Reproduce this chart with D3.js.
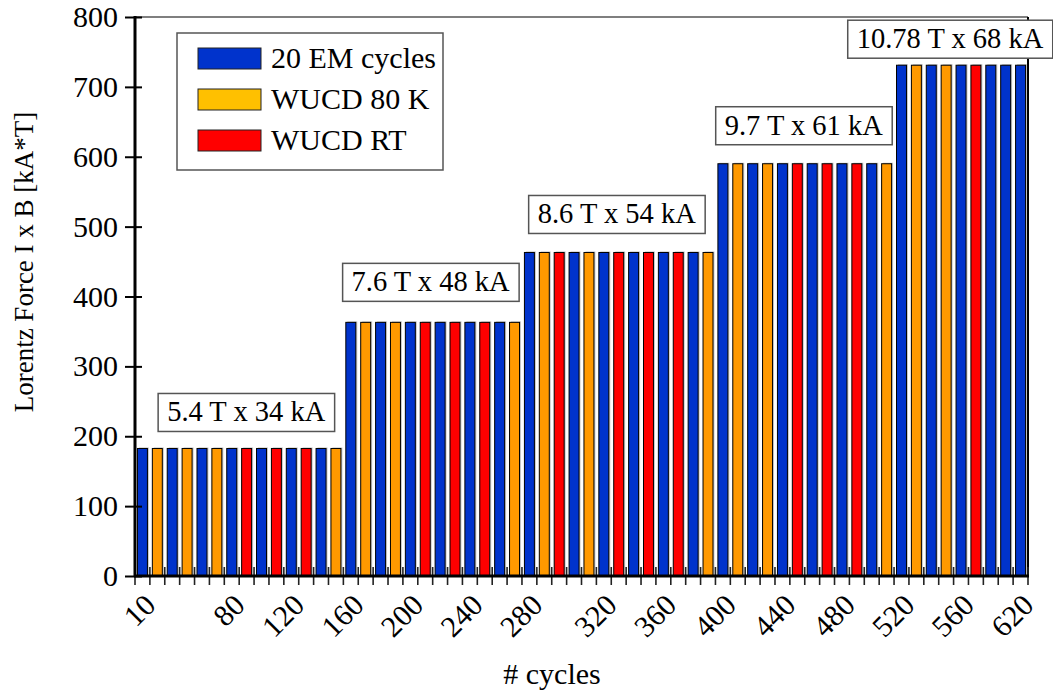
<!DOCTYPE html>
<html><head><meta charset="utf-8">
<script src="https://cdn.jsdelivr.net/npm/d3@7"></script>
<style>
html,body{margin:0;padding:0;background:#fff;}
text{font-family:"Liberation Serif","Times New Roman",serif;fill:#000;}
</style></head>
<body><svg id="chart" width="1053" height="694"></svg>
<script>
// ---- data ----
const values = [
  182.5,182.5,182.5,182.5,182.5,182.5,182.5,182.5,182.5,182.5,182.5,182.5,182.5,182.5,
  363,363,363,363,363,363,363,363,363,363,363,363,
  463,463,463,463,463,463,463,463,463,463,463,463,463,
  590,590,590,590,590,590,590,590,590,590,590,590,
  731,731,731,731,731,731,731,731,731
];
// B = 20 EM cycles, O = WUCD 80 K, R = WUCD RT
const conditions = [
  "B","O","B","O","B","O","B","R","B","R","B","R","B","O",
  "B","O","B","O","B","R","B","R","B","R","B","O",
  "B","O","R","B","O","B","R","B","R","B","R","B","O",
  "B","O","B","O","B","R","B","R","B","R","B","O",
  "B","O","B","O","B","R","B","B","B"
];
const labelIndex = [0,6,10,14,18,22,26,31,35,39,43,47,51,55,59];
const labelText  = ["10","80","120","160","200","240","280","320","360","400","440","480","520","560","620"];
const yTicks = [0,100,200,300,400,500,600,700,800];
const legendNames = ["20 EM cycles","WUCD 80 K","WUCD RT"];
const legendKeys = ["B","O","R"];
const annTexts = ["5.4 T x 34 kA","7.6 T x 48 kA","8.6 T x 54 kA","9.7 T x 61 kA","10.78 T x 68 kA"];
const annFirst = [0,14,26,39,51];
const annLast  = [13,25,38,50,59];
const annValue = [182.5,363,463,590,731];

// ---- styles ----
const barColor = {B:"#0033CC", O:"#FF9900", R:"#FF0000"};
const legendColor = {B:"#0033CC", O:"#FFC000", R:"#FF0000"};
const m={left:135,right:1028,top:17,bottom:576};
const FS=30;

const svg=d3.select("#chart");
const x=d3.scaleBand().domain(d3.range(values.length)).range([m.left,m.right]).paddingInner(0.33).paddingOuter(0.165);
const y=d3.scaleLinear().domain([0,800]).range([m.bottom,m.top]);

// frame (top/right thin)
svg.append("line").attr("x1",m.left).attr("x2",m.right).attr("y1",m.top).attr("y2",m.top).attr("stroke","#000").attr("stroke-width",1.2);
svg.append("line").attr("x1",m.right).attr("x2",m.right).attr("y1",m.top).attr("y2",m.bottom).attr("stroke","#000").attr("stroke-width",2);

// bars with shadow
const idx=d3.range(values.length);
svg.append("g").selectAll("rect").data(idx).join("rect")
  .attr("x",i=>x(i)+1.5).attr("y",i=>y(values[i])-1).attr("width",x.bandwidth()).attr("height",i=>y(0)-y(values[i])+1)
  .attr("fill","#999").attr("opacity",0.55);
svg.append("g").selectAll("rect").data(idx).join("rect")
  .attr("x",i=>x(i)).attr("y",i=>y(values[i])).attr("width",x.bandwidth()).attr("height",i=>y(0)-y(values[i]))
  .attr("fill",i=>barColor[conditions[i]]).attr("stroke","#000").attr("stroke-width",1);

// x boundary ticks (cross)
const step=x.step();
svg.append("g").selectAll("line").data(d3.range(values.length+1)).join("line")
  .attr("x1",i=>m.left+i*step).attr("x2",i=>m.left+i*step)
  .attr("y1",m.bottom-9).attr("y2",m.bottom+9).attr("stroke","#222").attr("stroke-width",1.6);

// y axis
const ya=svg.append("g").attr("transform",`translate(${m.left},0)`)
  .call(d3.axisLeft(y).tickValues(yTicks).tickSize(10).tickPadding(7).tickSizeOuter(0));
ya.select(".domain").remove();
ya.selectAll(".tick line").attr("x1",7).attr("stroke","#000").attr("stroke-width",2);
ya.selectAll(".tick text").style("font-size",FS+"px").style("font-family","Liberation Serif").attr("fill","#000");

// axis lines thick
svg.append("line").attr("x1",m.left).attr("x2",m.left).attr("y1",m.top-1).attr("y2",m.bottom+1).attr("stroke","#000").attr("stroke-width",3);
svg.append("line").attr("x1",m.left-1).attr("x2",m.right+1).attr("y1",m.bottom).attr("y2",m.bottom).attr("stroke","#000").attr("stroke-width",3);

// x labels
svg.append("g").selectAll("text").data(labelIndex).join("text")
  .attr("transform",i=>`translate(${x(i)+x.bandwidth()/2},${m.bottom+16}) rotate(-45)`)
  .attr("text-anchor","end").attr("dy","0.7em").style("font-size",FS+"px")
  .text((d,k)=>labelText[k]);

// axis titles
svg.append("text").attr("transform",`translate(33,262) rotate(-90)`).attr("text-anchor","middle")
  .style("font-size","27px").text("Lorentz Force I x B [kA*T]");
svg.append("text").attr("x",552).attr("y",684).attr("text-anchor","middle").style("font-size","30px").text("# cycles");

// annotations
const annShift=[7,-2,-2,-1,-11];
const annGap=[17,21,19,19,7];
annTexts.forEach((t,k)=>{
  const cx=(x(annFirst[k])+x(annLast[k])+x.bandwidth())/2+annShift[k];
  const by=y(annValue[k])-annGap[k];
  const g=svg.append("g");
  const txt=g.append("text").attr("x",cx).attr("y",by-10).attr("text-anchor","middle").style("font-size","28.5px").text(t);
  const bb=txt.node().getBBox();
  g.insert("rect","text").attr("x",bb.x-9).attr("y",by-38).attr("width",bb.width+18).attr("height",38)
    .attr("fill","#fff").attr("stroke","#555").attr("stroke-width",1.5);
});

// legend
const lg=svg.append("g");
lg.append("rect").attr("x",177).attr("y",33).attr("width",266).attr("height",137).attr("fill","#fff").attr("stroke","#555").attr("stroke-width",1.5);
legendKeys.forEach((k,i)=>{
  const yy=48+i*41;
  lg.append("rect").attr("x",198).attr("y",yy).attr("width",63).attr("height",21).attr("fill",legendColor[k]).attr("stroke","#222").attr("stroke-width",1);
  lg.append("text").attr("x",271).attr("y",yy+20).style("font-size","30px").text(legendNames[i]);
});
</script></body></html>
